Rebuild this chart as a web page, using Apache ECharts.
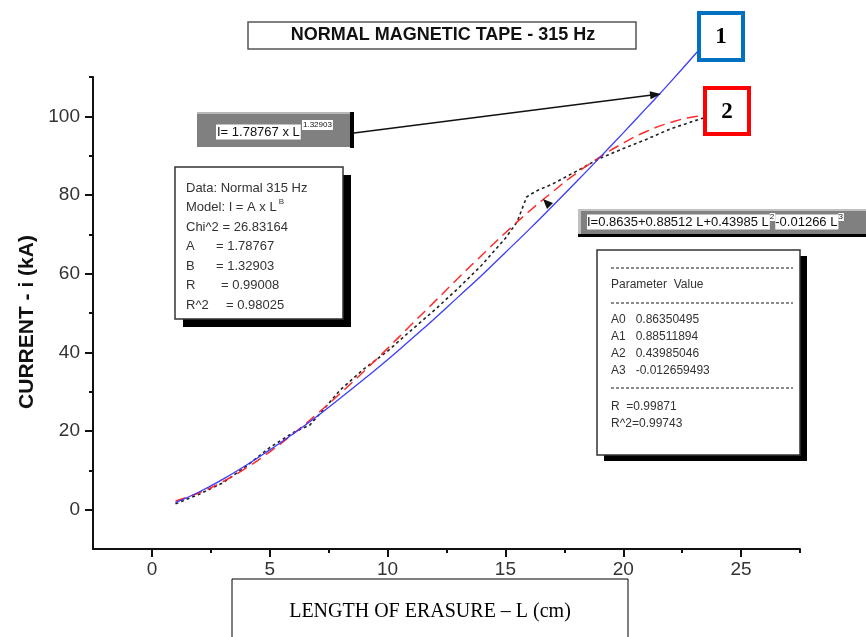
<!DOCTYPE html>
<html>
<head>
<meta charset="utf-8">
<script src="https://cdn.jsdelivr.net/npm/echarts@6/dist/echarts.min.js"></script>
<style>
  html, body { margin: 0; padding: 0; background: #fff; }
  #chart { width: 866px; height: 637px; }
</style>
</head>
<body>
<div id="chart"></div>
<script>
// tick values
const xMajor = [0, 5, 10, 15, 20, 25];
const xMinor = [2.5, 7.5, 12.5, 17.5, 22.5, 27.5];
const yMajor = [0, 20, 40, 60, 80, 100];
const yMinor = [10, 30, 50, 70, 90, 110];

// curve 1 : power fit  I = A x L^B
const powerL = [1, 2, 3, 4, 5, 6, 7, 8, 9, 10, 11, 12, 13, 14, 15, 16, 17, 18, 19, 20, 21, 22, 23.2];
const powerI = [1.8, 4.5, 7.7, 11.3, 15.2, 19.3, 23.7, 28.4, 33.2, 38.1, 43.3, 48.6, 54.1, 59.6, 65.4, 71.2, 77.2, 83.3, 89.5, 95.8, 102.2, 108.7, 116.8];

// curve 2 : polynomial fit
const polyL = [1, 2, 3, 4, 5, 6, 7, 8, 9, 10, 11, 12, 13, 14, 15, 16, 17, 18, 19, 20, 21, 22, 23, 23.4];
const polyI = [2.2, 4.3, 7.1, 10.6, 14.7, 19.3, 24.3, 29.6, 35.2, 41.0, 47.0, 52.9, 58.9, 64.7, 70.4, 75.8, 80.8, 85.5, 89.6, 93.2, 96.2, 98.4, 99.9, 100.1];

// measured data (dotted)
const dataL = [1, 2, 3, 4, 5, 6, 6.7, 7.2, 8, 9, 10, 11, 12, 13, 14, 15, 15.5, 15.9, 16.3, 17, 18, 19, 20, 21, 22, 23, 23.4];
const dataI = [1.5, 3.9, 6.8, 11.0, 15.8, 19.6, 21.5, 24.9, 30.5, 35.8, 40.3, 45.6, 50.8, 56.3, 62.2, 69.0, 73.2, 79.5, 81.0, 82.8, 86.0, 89.3, 91.8, 94.2, 96.8, 98.8, 99.6];

// fit report text
const statsRows = [
  ["Data: Normal 315 Hz", ""],
  ["Model: I = A x L", ""],
  ["Chi^2 = 26.83164", ""],
  ["A", "= 1.78767"],
  ["B", "= 1.32903"],
  ["R", "= 0.99008"],
  ["R^2", "= 0.98025"]
];
const paramRows = [
  ["Parameter  Value", 285],
  ["A0   0.86350495", 320],
  ["A1   0.88511894", 337],
  ["A2   0.43985046", 354],
  ["A3   -0.012659493", 371],
  ["R  =0.99871", 407],
  ["R^2=0.99743", 424]
];

const zip = (xs, ys) => xs.map((x, i) => [x, ys[i]]);

const chart = echarts.init(document.getElementById("chart"));

const axisColor = "#111";
const labelStyle = { color: "#333", fontSize: 19, fontFamily: "Liberation Sans, Arial" };
const txt = (x, y, text, font, extra) => ({
  type: "text", x: x, y: y, z: 100,
  style: Object.assign({ text: text, font: font, fill: "#222", align: "left", verticalAlign: "middle" }, extra || {})
});
const textWidth = (s, f) => echarts.format.getTextRect ? echarts.format.getTextRect(s, f).width : s.length * 7;

const graphics = [
  // title
  { type: "rect", z: 90, shape: { x: 248, y: 22, width: 388, height: 27 }, style: { fill: "#fff", stroke: "#555", lineWidth: 1.5 } },
  txt(443, 35.5, "NORMAL MAGNETIC TAPE - 315 Hz", "bold 18px Arial", { align: "center", fill: "#111" }),
  // boxes 1 and 2
  { type: "rect", z: 90, shape: { x: 699, y: 13, width: 44, height: 47 }, style: { fill: "#fff", stroke: "#0070c0", lineWidth: 4 } },
  txt(721, 37, "1", "bold 23px 'Liberation Serif'", { align: "center", fill: "#000" }),
  { type: "rect", z: 90, shape: { x: 705, y: 88, width: 44, height: 46 }, style: { fill: "#fff", stroke: "#ff0000", lineWidth: 4 } },
  txt(727, 112, "2", "bold 23px 'Liberation Serif'", { align: "center", fill: "#000" }),
  // y axis title
  txt(27, 322, "CURRENT - i (kA)", "bold 21px Arial", { align: "center", fill: "#111" }),
  // power-fit label
  { type: "rect", z: 90, shape: { x: 197, y: 112, width: 156, height: 35 }, style: { fill: "#808080" } },
  { type: "rect", z: 90, shape: { x: 197, y: 112, width: 156, height: 2 }, style: { fill: "#b8b8b8" } },
  { type: "rect", z: 91, shape: { x: 350, y: 112, width: 4, height: 36 }, style: { fill: "#000" } },
  txt(216, 132, "I= 1.78767 x L", "13px Arial", { backgroundColor: "#fff", padding: [1, 1, 1, 1], fill: "#111" }),
  txt(302, 125, "1.32903", "8px Arial", { backgroundColor: "#fff", padding: [1, 1, 1, 1], fill: "#111" }),
  // arrow to curve 1
  { type: "line", z: 92, shape: { x1: 354, y1: 133, x2: 652, y2: 95 }, style: { stroke: "#111", lineWidth: 1.5 } },
  { type: "polygon", z: 92, shape: { points: [[661, 94], [650.6, 99.3], [649.6, 91.3]] }, style: { fill: "#111" } },
  // stats box
  { type: "rect", z: 90, shape: { x: 183, y: 175, width: 168, height: 152 }, style: { fill: "#000" } },
  { type: "rect", z: 91, shape: { x: 175, y: 167, width: 168, height: 152 }, style: { fill: "#fff", stroke: "#333", lineWidth: 1.5 } },
  // polynomial label
  { type: "rect", z: 90, shape: { x: 578, y: 209, width: 290, height: 27 }, style: { fill: "#808080" } },
  { type: "rect", z: 90, shape: { x: 578, y: 209, width: 290, height: 2 }, style: { fill: "#c0c0c0" } },
  { type: "rect", z: 90, shape: { x: 578, y: 209, width: 3, height: 27 }, style: { fill: "#c0c0c0" } },
  { type: "rect", z: 91, shape: { x: 578, y: 234, width: 290, height: 3 }, style: { fill: "#000" } },
  { type: "polygon", z: 92, shape: { points: [[543, 199], [553, 203], [547, 209]] }, style: { fill: "#111" } },
  // parameter box
  { type: "rect", z: 90, shape: { x: 604, y: 256, width: 203, height: 205 }, style: { fill: "#000" } },
  { type: "rect", z: 91, shape: { x: 597, y: 250, width: 203, height: 205 }, style: { fill: "#fff", stroke: "#333", lineWidth: 1.5 } },
  // x axis title box
  { type: "rect", z: 90, shape: { x: 232, y: 579, width: 396, height: 70 }, style: { fill: "#fff", stroke: "#000", lineWidth: 1 } },
  txt(430, 612, "LENGTH OF ERASURE \u2013 L (cm)", "20px 'Liberation Serif'", { align: "center", fill: "#000" })
];
graphics[6].rotation = Math.PI / 2;

// stats box text
const statsFont = "13px Arial";
const valueX = [0, 0, 0, 216, 216, 221, 226];
statsRows.forEach(([a, b], i) => {
  const y = 188 + i * 19.5;
  graphics.push(txt(186, y, a, statsFont, { fill: "#333" }));
  if (b) graphics.push(txt(valueX[i], y, b, statsFont, { fill: "#333" }));
});
graphics.push(txt(188 + textWidth(statsRows[1][0], statsFont), 202, "B", "8px Arial", { fill: "#333" }));

// polynomial equation with superscripts
const eqParts = [
  ["I=0.8635+0.88512 L+0.43985 L", "13px Arial", 0],
  ["2", "8px Arial", -5],
  ["-0.01266 L", "13px Arial", 0],
  ["3", "8px Arial", -5]
];
let eqX = 587;
eqParts.forEach(([s, f, dy]) => {
  graphics.push(txt(eqX, 222 + dy, s, f, { backgroundColor: "#fff", padding: [dy ? 0 : 1, 1, dy ? 0 : 1, 0], fill: "#111" }));
  eqX += textWidth(s, f) + 1;
});

paramRows.forEach(([s, y]) => graphics.push(txt(611, y, s, "12px Arial", { fill: "#333" })));
[268, 303, 388].forEach((y) => graphics.push({
  type: "line", z: 92, shape: { x1: 611, y1: y, x2: 793, y2: y },
  style: { stroke: "#666", lineWidth: 1.5, lineDash: [3, 2] }
}));

const option = {
  animation: false,
  backgroundColor: "#fff",
  grid: { left: 93, right: 66, top: 77, bottom: 88 },
  xAxis: [
    {
      type: "value", min: -2.5, max: 27.5, position: "bottom",
      axisLine: { onZero: false, lineStyle: { color: axisColor, width: 2 } },
      axisTick: { customValues: xMajor, length: 8, lineStyle: { color: axisColor, width: 2 } },
      axisLabel: Object.assign({ customValues: xMajor, margin: 11 }, labelStyle),
      splitLine: { show: false }
    },
    {
      type: "value", min: -2.5, max: 27.5, position: "bottom",
      axisLine: { show: false, onZero: false },
      axisTick: { customValues: xMinor, length: 4, lineStyle: { color: axisColor, width: 2 } },
      axisLabel: { show: false },
      splitLine: { show: false }
    }
  ],
  yAxis: [
    {
      type: "value", min: -10, max: 110, position: "left",
      axisLine: { onZero: false, lineStyle: { color: axisColor, width: 2 } },
      axisTick: { customValues: yMajor, length: 8, lineStyle: { color: axisColor, width: 2 } },
      axisLabel: Object.assign({ customValues: yMajor, margin: 13 }, labelStyle),
      splitLine: { show: false }
    },
    {
      type: "value", min: -10, max: 110, position: "left",
      axisLine: { show: false, onZero: false },
      axisTick: { customValues: yMinor, length: 4, lineStyle: { color: axisColor, width: 2 } },
      axisLabel: { show: false },
      splitLine: { show: false }
    }
  ],
  series: [
    {
      name: "Measured", type: "line", data: zip(dataL, dataI), showSymbol: false, clip: false,
      lineStyle: { color: "#222", width: 1.6, type: [3, 3] }, z: 3
    },
    {
      name: "Polynomial fit", type: "line", data: zip(polyL, polyI), showSymbol: false, smooth: true, clip: false,
      lineStyle: { color: "#ff2a2a", width: 1.5, type: [11, 6] }, z: 4
    },
    {
      name: "Power fit", type: "line", data: zip(powerL, powerI), showSymbol: false, smooth: true, clip: false,
      lineStyle: { color: "#3b3bff", width: 1.3 }, z: 5
    }
  ],
  graphic: graphics
};

chart.setOption(option);
</script>
</body>
</html>
